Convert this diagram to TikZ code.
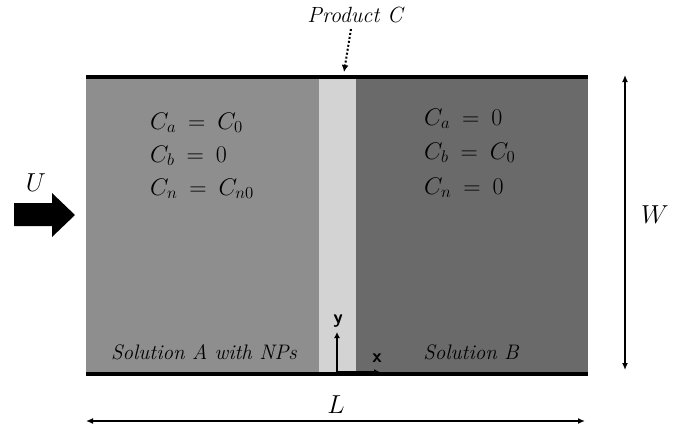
\RequirePackage{fix-cm}
\documentclass[tikz,border=0pt]{standalone}
\usetikzlibrary{arrows.meta}
\newcommand\eqfont{\fontsize{24}{28}\selectfont\thickmuskip=9mu\relax}
\begin{document}
\begin{tikzpicture}[x=1pt,y=-1pt,
  wall/.style={line width=4pt},
  dim/.style={line width=1.6pt,{Latex[length=7pt,width=6pt]}-{Latex[length=7pt,width=6pt]}},
  eq/.style={anchor=base west,font=\eqfont,inner sep=0pt},
  lab/.style={font=\fontsize{22}{26}\selectfont\itshape,inner sep=0pt},
  dimlab/.style={font=\fontsize{26}{30}\selectfont,inner sep=0pt},
  sol/.style={font=\fontsize{21}{24}\selectfont\itshape,inner sep=0pt},
  axis/.style={line width=1.8pt,-{Latex[length=6pt,width=6pt]}},
  axlab/.style={font=\fontsize{19}{21}\selectfont\sffamily\bfseries,inner sep=0pt}]
\useasboundingbox (0,0) rectangle (683,431);
\definecolor{solA}{HTML}{8E8E8E}
\definecolor{prodC}{HTML}{D3D3D3}
\definecolor{solB}{HTML}{6A6A6A}
% channel regions
\fill[solA] (86,77) rectangle (319,374);
\fill[prodC] (319,77) rectangle (356,374);
\fill[solB] (356,77) rectangle (588,374);
% channel walls
\coordinate (tl) at (86,77); \coordinate (tr) at (588,77);
\coordinate (bl) at (86,374); \coordinate (br) at (588,374);
\draw[wall] (tl) -- (tr);
\draw[wall] (bl) -- (br);
% product label and dotted pointer
\node[lab] (prod) at (355,15) {Product C};
\coordinate (pend) at (344,72);
\draw[line width=2pt,dotted,-{Latex[length=7pt,width=7pt]}] (351,29) -- (pend);
% inflow arrow
\fill[black] (14,203) -- (52,203) -- (52,193) -- (75,215) -- (52,237) -- (52,226) -- (14,226) -- cycle;
\node[dimlab] (U) at (36,183) {$U$};
% initial concentrations, left
\node[eq] (la) at (150,129) {$C_a=C_0$};
\node[eq] (lb) at (150,162) {$C_b=0$};
\node[eq] (ln) at (150,195) {$C_n=C_{n0}$};
% initial concentrations, right
\node[eq] (ra) at (424,125) {$C_a=0$};
\node[eq] (rb) at (424,159) {$C_b=C_0$};
\node[eq] (rn) at (424,194) {$C_n=0$};
% region names
\node[sol] (sa) at (204,352) {Solution A with NPs};
\node[sol] (sb) at (471,352) {Solution B};
% coordinate axes
\coordinate (o) at (337,372);
\coordinate (yend) at (337,332);
\coordinate (xend) at (380,372);
\draw[axis] (o) -- (yend);
\draw[axis] (o) -- (xend);
\node[axlab] (ylab) at (338,321) {y};
\node[axlab] (xlab) at (377,358) {x};
% dimensions
\coordinate (wt) at (625,75); \coordinate (wb) at (625,370);
\draw[dim] (wt) -- (wb);
\node[dimlab] (W) at (655,215) {$W$};
\coordinate (ll) at (86,421); \coordinate (lr) at (585,421);
\draw[dim] (ll) -- (lr);
\node[dimlab] (L) at (336,405) {$L$};
\end{tikzpicture}
\end{document}
